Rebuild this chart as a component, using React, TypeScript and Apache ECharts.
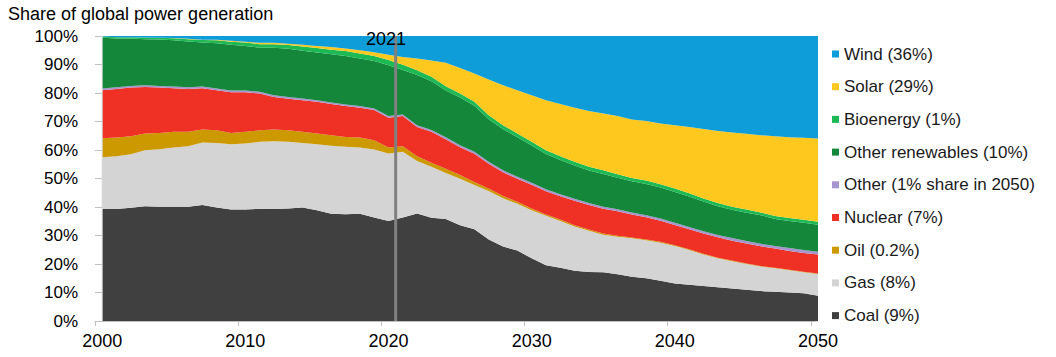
import { useEffect, useRef } from "react";
import * as echarts from "echarts";

const YEARS = [
  2000, 2001, 2002, 2003, 2004, 2005, 2006, 2007, 2008, 2009,
  2010, 2011, 2012, 2013, 2014, 2015, 2016, 2017, 2018, 2019,
  2020, 2021, 2022, 2023, 2024, 2025, 2026, 2027, 2028, 2029,
  2030, 2031, 2032, 2033, 2034, 2035, 2036, 2037, 2038, 2039,
  2040, 2041, 2042, 2043, 2044, 2045, 2046, 2047, 2048, 2049,
  2050,
];

const X_LABELS = [2000, 2010, 2020, 2030, 2040, 2050];
const X_TICKS = [1999.5, 2009.5, 2019.5, 2029.5, 2039.5, 2049.5];
const MARKER_YEAR = 2020.5;
const MARKER_LABEL = "2021";
const TITLE = "Share of global power generation";

const coal = [
  39.3, 39.3, 39.7, 40.3, 40.1, 40.1, 40.1, 40.7, 39.8, 39.1,
  39.1, 39.4, 39.3, 39.5, 39.8, 38.9, 37.6, 37.5, 37.6, 36.3,
  35.1, 36.3, 37.7, 36.2, 35.8, 33.6, 32.2, 28.6, 26.1, 24.7,
  22.0, 19.6, 18.7, 17.6, 17.2, 17.1, 16.4, 15.5, 15.0, 14.1,
  13.2, 12.7, 12.3, 11.8, 11.4, 11.0, 10.5, 10.3, 10.0, 9.7,
  8.9,
];
const gas = [
  18.2, 18.5, 18.8, 19.6, 20.2, 20.8, 21.2, 21.9, 22.7, 22.9,
  23.2, 23.5, 23.8, 23.4, 22.7, 23.1, 23.9, 23.6, 23.3, 23.9,
  23.7, 23.1, 18.4, 17.9, 16.1, 16.3, 15.5, 17.0, 17.0, 16.4,
  16.9, 17.3, 16.4, 15.6, 14.5, 13.2, 13.2, 13.5, 13.3, 13.4,
  13.1, 12.2, 11.0, 10.2, 9.6, 9.0, 8.6, 8.2, 7.8, 7.4,
  7.6,
];
const oil = [
  6.6, 6.6, 6.3, 5.9, 5.7, 5.5, 5.1, 4.6, 4.4, 4.0,
  4.1, 4.0, 4.1, 4.0, 3.9, 3.8, 3.7, 3.5, 3.5, 3.2,
  2.1, 1.9, 1.7, 1.4, 1.5, 1.3, 1.1, 0.9, 0.8, 0.7,
  0.6, 0.5, 0.5, 0.4, 0.4, 0.4, 0.3, 0.3, 0.3, 0.3,
  0.3, 0.3, 0.3, 0.2, 0.2, 0.2, 0.2, 0.2, 0.2, 0.2,
  0.2,
];
const nuclear = [
  16.9, 17.0, 17.1, 16.3, 15.9, 15.3, 15.0, 14.5, 14.1, 14.3,
  13.9, 12.9, 11.4, 11.1, 11.1, 11.1, 10.9, 10.8, 10.4, 10.6,
  10.4, 10.6, 10.3, 10.9, 10.4, 9.8, 9.9, 8.7, 8.3, 8.1,
  8.3, 8.1, 8.2, 8.6, 8.6, 8.7, 8.6, 8.1, 7.8, 7.4,
  7.1, 7.0, 7.1, 7.2, 7.0, 7.0, 6.9, 6.7, 6.6, 6.6,
  6.6,
];
const other = [
  0.6, 0.6, 0.6, 0.6, 0.6, 0.6, 0.6, 0.6, 0.6, 0.6,
  0.6, 0.6, 0.6, 0.6, 0.6, 0.6, 0.6, 0.6, 0.6, 0.6,
  0.6, 0.6, 0.6, 0.6, 0.7, 0.7, 0.7, 0.7, 0.7, 0.7,
  0.7, 0.7, 0.7, 0.7, 0.7, 0.7, 0.7, 0.7, 0.7, 0.8,
  0.8, 0.8, 0.8, 0.8, 0.9, 0.9, 0.9, 0.9, 1.0, 1.0,
  1.0,
];
const otherRenewables = [
  17.8, 17.1, 16.6, 16.2, 16.3, 16.2, 16.1, 15.4, 15.9, 16.0,
  15.6, 15.5, 16.7, 16.9, 16.7, 16.7, 16.9, 17.0, 16.7, 16.6,
  17.8, 15.6, 17.6, 17.1, 16.4, 16.7, 16.1, 14.9, 14.4, 13.9,
  13.1, 12.4, 12.0, 11.7, 11.4, 11.5, 11.1, 10.9, 11.0, 10.8,
  10.8, 10.7, 10.4, 10.1, 9.9, 9.9, 10.0, 9.5, 9.5, 9.6,
  9.5,
];
const bioenergy = [
  0.4, 0.5, 0.5, 0.6, 0.6, 0.7, 0.8, 0.9, 1.0, 1.1,
  1.2, 1.2, 1.2, 1.3, 1.5, 1.6, 1.6, 1.7, 1.8, 1.8,
  1.9, 1.8, 1.7, 1.6, 1.5, 1.4, 1.4, 1.4, 1.4, 1.3,
  1.3, 1.3, 1.3, 1.3, 1.3, 1.3, 1.2, 1.2, 1.2, 1.2,
  1.2, 1.1, 1.1, 1.1, 1.1, 1.1, 1.0, 1.0, 1.0, 1.0,
  1.0,
];
const solar = [
  0.0, 0.0, 0.0, 0.0, 0.0, 0.1, 0.1, 0.1, 0.2, 0.3,
  0.3, 0.5, 0.5, 0.5, 0.6, 0.7, 0.9, 0.9, 1.1, 1.3,
  1.8, 2.7, 4.1, 5.7, 8.2, 9.0, 9.9, 12.5, 14.0, 15.2,
  16.3, 17.6, 18.3, 18.9, 19.6, 19.9, 20.4, 20.5, 20.9, 21.3,
  22.2, 23.3, 24.4, 25.3, 26.0, 26.6, 27.1, 28.0, 28.4, 28.8,
  29.2,
];
const wind = [
  0.2, 0.4, 0.4, 0.5, 0.6, 0.7, 1.0, 1.3, 1.3, 1.7,
  2.0, 2.4, 2.4, 2.7, 3.1, 3.5, 3.9, 4.4, 5.0, 5.7,
  6.6, 7.4, 7.9, 8.6, 9.4, 11.2, 13.2, 15.3, 17.3, 19.0,
  20.8, 22.5, 23.9, 25.2, 26.3, 27.2, 28.1, 29.3, 29.8, 30.7,
  31.3, 31.9, 32.6, 33.3, 33.9, 34.3, 34.8, 35.2, 35.5, 35.7,
  36.0,
];

// bottom to top
const SERIES_NAMES = [
  "Coal (9%)",
  "Gas (8%)",
  "Oil (0.2%)",
  "Nuclear (7%)",
  "Other (1% share in 2050)",
  "Other renewables (10%)",
  "Bioenergy (1%)",
  "Solar (29%)",
  "Wind (36%)",
];
const SERIES_VALUES = [coal, gas, oil, nuclear, other, otherRenewables, bioenergy, solar, wind];
const SERIES_COLORS = [
  "#404040",
  "#d4d4d4",
  "#cc9900",
  "#ee3124",
  "#a695cf",
  "#14873b",
  "#1db954",
  "#fec81e",
  "#0f9dd9",
];

const FONT = "'Liberation Sans', Arial, sans-serif";

export default function App() {
  const ref = useRef<HTMLDivElement>(null);

  useEffect(() => {
    if (!ref.current) return;
    const chart = echarts.init(ref.current, undefined, { renderer: "svg" });

    const series: any[] = SERIES_NAMES.map((name, idx) => ({
      name,
      type: "line",
      stack: "total",
      symbol: "none",
      showSymbol: false,
      // value first so that the stack is applied to the share, not the year
      encode: { x: 1, y: 0 },
      lineStyle: { width: 0 },
      itemStyle: { color: SERIES_COLORS[idx] },
      areaStyle: { color: SERIES_COLORS[idx], opacity: 1 },
      emphasis: { disabled: true },
      z: 2,
      data: YEARS.map((y, i) => [SERIES_VALUES[idx][i], y]),
    }));

    // left edge line at the first year and the 2021 marker, drawn on top of the areas
    series.push({
      name: "axis-edge",
      type: "line",
      symbol: "none",
      silent: true,
      z: 5,
      lineStyle: { color: "#d9d9d9", width: 1 },
      data: [
        [YEARS[0], 0],
        [YEARS[0], 100],
      ],
    });
    series.push({
      name: "marker",
      type: "line",
      symbol: "none",
      silent: true,
      z: 6,
      lineStyle: { color: "#808080", width: 3 },
      data: [
        [MARKER_YEAR, 0],
        [MARKER_YEAR, 100],
      ],
    });

    chart.setOption({
      animation: false,
      textStyle: { fontFamily: FONT },
      grid: { left: 95, right: 238, top: 36, bottom: 36 },
      xAxis: {
        type: "value",
        min: 1999.5,
        max: 2050,
        axisLine: { show: true, lineStyle: { color: "#bfbfbf", width: 1 } },
        axisTick: {
          show: true,
          length: 5,
          customValues: X_TICKS,
          lineStyle: { color: "#bfbfbf" },
        },
        axisLabel: {
          customValues: X_LABELS,
          fontSize: 18,
          color: "#000",
          margin: 11,
          fontFamily: FONT,
          formatter: (v: number) => String(Math.round(v)),
        },
        splitLine: { show: false },
      },
      yAxis: [
        {
          type: "value",
          min: 0,
          max: 100,
          interval: 10,
          position: "left",
          axisLine: { show: false },
          axisTick: { show: true, inside: true, length: 7, lineStyle: { color: "#bfbfbf" } },
          axisLabel: {
            formatter: "{value}%",
            fontSize: 17,
            color: "#000",
            margin: 17,
            fontFamily: FONT,
          },
          splitLine: { show: false },
        },
        {
          type: "value",
          min: 0,
          max: 100,
          interval: 10,
          position: "right",
          axisLine: { show: false },
          axisTick: { show: true, inside: true, length: 3, lineStyle: { color: "#d9d9d9" } },
          axisLabel: { show: false },
          splitLine: { show: false },
        },
      ],
      legend: {
        orient: "vertical",
        left: 827,
        top: 40,
        itemWidth: 7,
        itemHeight: 7,
        itemGap: 14.7,
        icon: "rect",
        data: [...SERIES_NAMES].reverse(),
        textStyle: { fontSize: 17, color: "#1a1a1a", fontFamily: FONT, lineHeight: 18 },
        selectedMode: false,
      },
      graphic: [
        {
          type: "text",
          left: 8,
          top: 5,
          z: 100,
          style: { text: TITLE, fontSize: 18, fill: "#000", fontFamily: FONT },
        },
        {
          type: "text",
          x: 386,
          y: 30,
          z: 100,
          style: {
            text: MARKER_LABEL,
            fontSize: 18,
            fill: "#000",
            fontFamily: FONT,
            align: "center",
            verticalAlign: "top",
          },
        },
      ],
      series,
    });

    return () => chart.dispose();
  }, []);

  return (
    <div
      ref={ref}
      style={{ position: "fixed", left: 0, top: 0, width: 1056, height: 357, background: "#fff" }}
    />
  );
}
